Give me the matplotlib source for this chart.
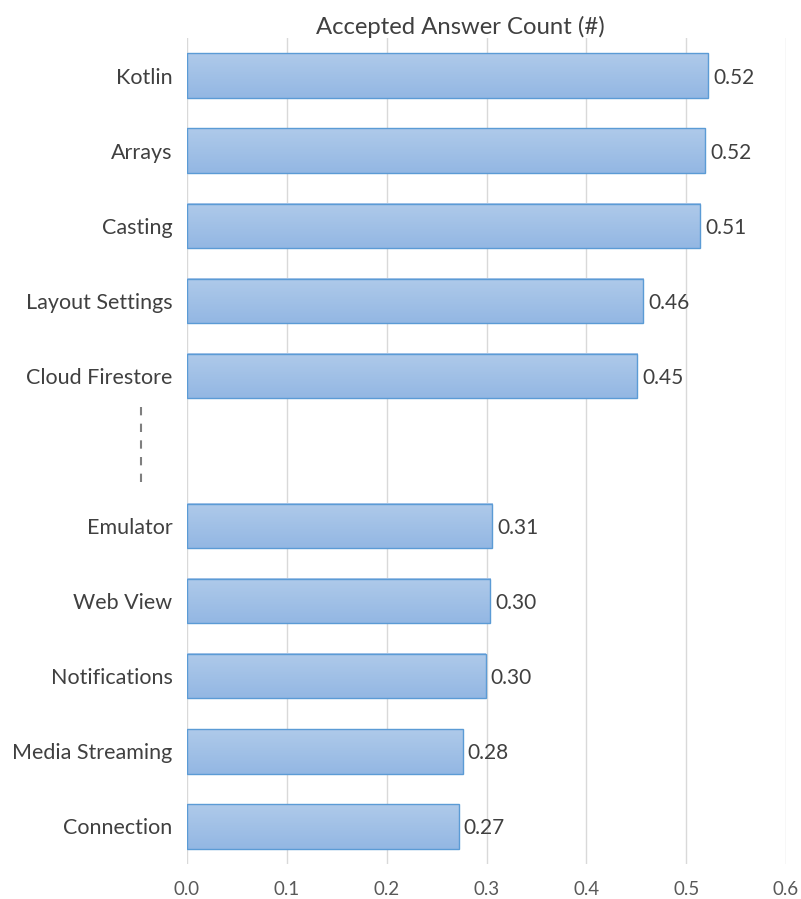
import matplotlib
matplotlib.use("Agg")
import matplotlib.pyplot as plt
import matplotlib.transforms as mtransforms
from matplotlib.colors import LinearSegmentedColormap
import numpy as np

plt.rcParams['font.family'] = ['Lato', 'DejaVu Sans']

top_categories = ["Kotlin", "Arrays", "Casting", "Layout Settings", "Cloud Firestore"]
top_values = [0.522, 0.519, 0.514, 0.457, 0.451]
bottom_categories = ["Emulator", "Web View", "Notifications", "Media Streaming", "Connection"]
bottom_values = [0.306, 0.304, 0.299, 0.276, 0.272]
x_ticks = [0.0, 0.1, 0.2, 0.3, 0.4, 0.5, 0.6]
title = "Accepted Answer Count (#)"

categories = top_categories + bottom_categories
values = top_values + bottom_values
positions = list(range(len(top_categories))) + [len(top_categories) + 1 + i for i in range(len(bottom_categories))]
gap_pos = len(top_categories)

W, H = 801, 899
fig = plt.figure(figsize=(W / 100, H / 100), dpi=100)
ax = fig.add_axes([187 / W, 35 / H, (786 - 187) / W, (864 - 35 - 3) / H])

bar_h = 0.59
grad = np.linspace(0, 1, 256).reshape(-1, 1)
cmap = LinearSegmentedColormap.from_list("g", ["#afcaea", "#93b7e3"])

for p, v in zip(positions, values):
    ax.imshow(grad, extent=[0, v, p + bar_h / 2, p - bar_h / 2], aspect='auto',
              cmap=cmap, origin='upper', zorder=2, interpolation='bilinear')
    ax.barh(p, v, height=bar_h, facecolor='none', edgecolor='#5b9bd5', linewidth=1.0, zorder=3)
    ax.text(v + 0.005, p, f"{v:.2f}", va='center_baseline', ha='left', fontsize=15,
            color='#404040', zorder=4)

ax.set_xlim(0, 0.6)
ax.set_ylim(len(categories) + 0.5, -0.5)
ax.set_xticks(x_ticks)
ax.set_xticklabels([f"{t:.1f}" for t in x_ticks], fontsize=13.5, color='#595959')
ax.set_yticks(positions)
ax.set_yticklabels(categories, fontsize=15.5, color='#404040', va='center_baseline')
ax.tick_params(axis='both', length=0)
ax.tick_params(axis='x', pad=12)
ax.tick_params(axis='y', pad=10.5)
ax.grid(axis='x', color='#d9d9d9', linewidth=1.0, zorder=0)
ax.set_axisbelow(True)
for s in ax.spines.values():
    s.set_visible(False)

trans = mtransforms.blended_transform_factory(ax.transAxes, ax.transData)
xd = (141 - 187) / (786 - 187)
ax.plot([xd, xd], [gap_pos - 0.58, gap_pos + 0.42], transform=trans, clip_on=False,
        color='#7f7f7f', linestyle=(0, (4, 4)), linewidth=1.5)

ax.set_title(title, fontsize=17.2, color='#404040', pad=2, x=(460 - 187) / (786 - 187))

fig.savefig("out.png", dpi=100)
